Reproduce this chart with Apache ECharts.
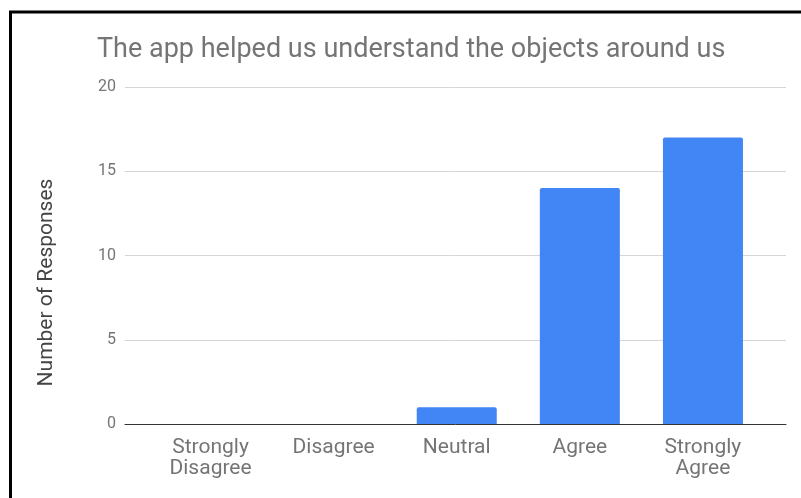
<!DOCTYPE html>
<html>
<head>
<meta charset="utf-8">
<script src="https://cdn.jsdelivr.net/npm/echarts@6/dist/echarts.min.js"></script>
<style>
  html, body { margin: 0; padding: 0; background: #fff; }
  #chart { width: 801px; height: 498px; }
</style>
</head>
<body>
<div id="chart"></div>
<script>
// Survey responses for a single Likert item
const chartTitle = 'The app helped us understand the objects around us';
const yAxisTitle = 'Number of Responses';
const categories = ['Strongly\nDisagree', 'Disagree', 'Neutral', 'Agree', 'Strongly\nAgree'];
const responses = [0, 0, 1, 14, 17];
const yTicks = [0, 5, 10, 15, 20];

const yMin = yTicks[0];
const yMax = yTicks[yTicks.length - 1];
const yStep = yTicks[1] - yTicks[0];

const chart = echarts.init(document.getElementById('chart'), null, { renderer: 'canvas' });

const font = 'Roboto';

chart.setOption({
  backgroundColor: '#ffffff',
  animation: false,
  title: {
    text: chartTitle,
    left: 92,
    top: 32,
    textStyle: {
      fontFamily: font,
      fontSize: 27,
      fontWeight: 'normal',
      color: '#757575'
    }
  },
  // Outer grid carries the gridlines and baseline; inner grid is inset for the bars.
  grid: [
    { left: 125, right: 15, top: 87, bottom: 74 },
    { left: 149, right: 36.5, top: 87, bottom: 74 }
  ],
  xAxis: [
    {
      gridIndex: 0,
      type: 'value',
      min: 0,
      max: 1,
      axisLine: { show: true, onZero: false, lineStyle: { color: '#333333', width: 1 } },
      axisTick: { show: false },
      axisLabel: { show: false },
      splitLine: { show: false }
    },
    {
      gridIndex: 1,
      type: 'category',
      data: categories,
      axisLine: { show: false },
      axisTick: { show: false },
      axisLabel: {
        fontFamily: font,
        fontSize: 21,
        color: '#757575',
        lineHeight: 21,
        margin: 13
      }
    }
  ],
  yAxis: [
    {
      gridIndex: 0,
      type: 'value',
      min: yMin,
      max: yMax,
      interval: yStep,
      axisLine: { show: false },
      axisTick: { show: false },
      splitLine: { lineStyle: { color: '#d6d6d6', width: 1 } },
      axisLabel: {
        fontFamily: font,
        fontSize: 16,
        color: '#757575',
        margin: 9
      }
    },
    {
      gridIndex: 1,
      type: 'value',
      min: yMin,
      max: yMax,
      interval: yStep,
      show: false,
      splitLine: { show: false }
    }
  ],
  graphic: [
    {
      type: 'text',
      x: 47,
      y: 282.5,
      rotation: Math.PI / 2,
      style: {
        text: yAxisTitle,
        font: '21px Roboto',
        fill: '#444444',
        align: 'center',
        verticalAlign: 'middle'
      }
    },
    {
      type: 'rect',
      shape: { x: 10.5, y: 12, width: 820, height: 520 },
      style: { fill: 'none', stroke: '#000000', lineWidth: 3 },
      silent: true
    }
  ],
  series: [
    {
      type: 'bar',
      xAxisIndex: 1,
      yAxisIndex: 1,
      data: responses,
      barWidth: '65%',
      z: 3,
      itemStyle: {
        color: '#4285f4',
        borderRadius: [2, 2, 0, 0]
      }
    }
  ]
});
</script>
</body>
</html>
